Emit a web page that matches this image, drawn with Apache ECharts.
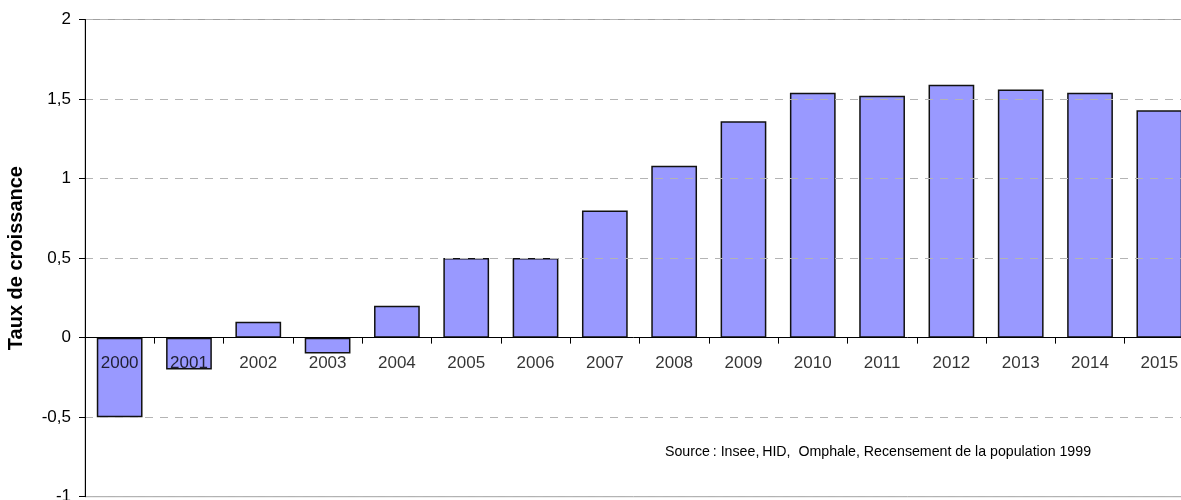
<!DOCTYPE html>
<html>
<head>
<meta charset="utf-8">
<script src="https://cdn.jsdelivr.net/npm/echarts@6/dist/echarts.min.js"></script>
<style>
  html, body { margin: 0; padding: 0; background: #fff; }
  #chart { width: 1181px; height: 500px; }
</style>
</head>
<body>
<div id="chart"></div>
<script>
// Annual growth rate, 2000-2015
const years = ['2000', '2001', '2002', '2003', '2004', '2005', '2006', '2007',
               '2008', '2009', '2010', '2011', '2012', '2013', '2014', '2015'];
const growthRate = [-0.5, -0.2, 0.1, -0.1, 0.2, 0.5, 0.5, 0.8,
                    1.08, 1.36, 1.54, 1.52, 1.59, 1.56, 1.54, 1.43];
const axisTitle = 'Taux de croissance';
const sourceNote = 'Source\u2009: Insee,\u2009HID,  Omphale, Recensement de la population 1999';

const FONT = '"Liberation Sans", Arial, sans-serif';

const chart = echarts.init(document.getElementById('chart'), null, { renderer: 'canvas' });

chart.setOption({
  animation: false,
  backgroundColor: '#ffffff',
  grid: {
    left: 85,
    top: 19.5,
    bottom: 3.3,
    width: 1109,
    containLabel: false,
    outerBoundsMode: 'none',
    show: true,
    borderColor: '#a0a0a0',
    borderWidth: 1,
    backgroundColor: 'transparent'
  },
  xAxis: {
    type: 'category',
    data: years,
    z: 5,
    axisLine: { onZero: true, lineStyle: { color: '#000', width: 1 } },
    axisTick: { show: true, length: 6, inside: false, lineStyle: { color: '#000' } },
    // year labels sit just under the zero line, drawn by the label series below
    axisLabel: { show: false },
    splitLine: { show: false }
  },
  yAxis: {
    type: 'value',
    min: -1,
    max: 2,
    interval: 0.5,
    z: 5,
    name: axisTitle,
    nameLocation: 'middle',
    nameGap: 59,
    nameRotate: 90,
    nameTextStyle: { color: '#000', fontSize: 20, fontWeight: 'bold', fontFamily: FONT },
    axisLine: { show: true, lineStyle: { color: '#000', width: 1 } },
    axisTick: { show: true, length: 6, lineStyle: { color: '#000' } },
    axisLabel: {
      color: '#000',
      fontSize: 17,
      fontFamily: FONT,
      margin: 14,
      formatter: v => String(v).replace('.', ',')
    },
    splitLine: { show: true, lineStyle: { color: '#b4b4b4', type: [8, 7], width: 1 } }
  },
  series: [{
    type: 'bar',
    data: growthRate,
    barCategoryGap: '34%',
    itemStyle: { color: '#9999ff', borderColor: '#111', borderWidth: 1.5 }
  }, {
    // category names anchored on the zero baseline, above the bars
    type: 'scatter',
    data: years.map(() => 0),
    symbolSize: 0,
    silent: true,
    z: 6,
    label: {
      show: true,
      position: 'bottom',
      distance: 17,
      formatter: p => years[p.dataIndex],
      color: '#000',
      fontSize: 17,
      fontFamily: FONT
    }
  }],
  graphic: [{
    type: 'text',
    left: 665,
    top: 445,
    style: { text: sourceNote, fill: '#000', font: '14.2px ' + FONT }
  }]
});
</script>
</body>
</html>
